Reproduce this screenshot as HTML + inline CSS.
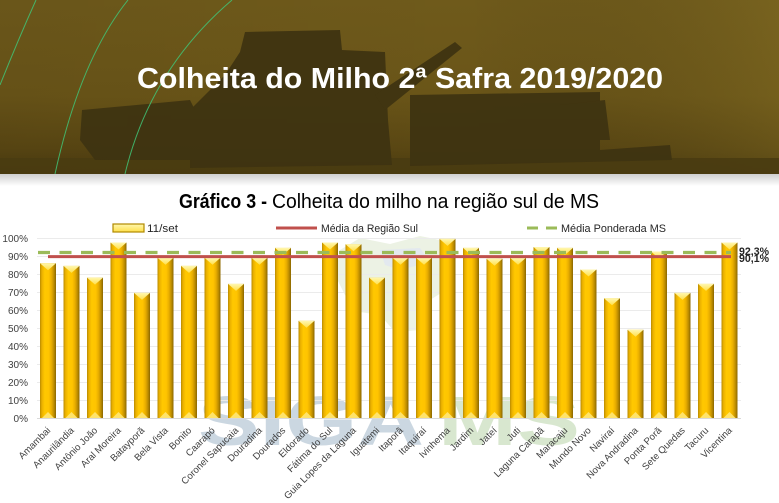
<!DOCTYPE html>
<html><head><meta charset="utf-8">
<style>
html,body{margin:0;padding:0;background:#fff;}
svg{display:block;}
text{font-family:"Liberation Sans",Arial,sans-serif;}
</style></head>
<body>
<svg width="779" height="503" viewBox="0 0 779 503" xmlns="http://www.w3.org/2000/svg">
<defs>
<linearGradient id="hdr" x1="0" y1="0" x2="0" y2="1">
<stop offset="0" stop-color="#6f5a1b"/>
<stop offset="0.55" stop-color="#6a5518"/>
<stop offset="0.85" stop-color="#5a4713"/>
<stop offset="1" stop-color="#4a3b10"/>
</linearGradient>
<linearGradient id="hdr2" x1="0" y1="0" x2="1" y2="0">
<stop offset="0" stop-color="#000" stop-opacity="0.05"/>
<stop offset="0.6" stop-color="#000" stop-opacity="0"/>
<stop offset="1" stop-color="#a08a30" stop-opacity="0.18"/>
</linearGradient>
<linearGradient id="shadow" x1="0" y1="0" x2="0" y2="1">
<stop offset="0" stop-color="#cfcfcf"/>
<stop offset="1" stop-color="#ffffff"/>
</linearGradient>
<linearGradient id="bg" x1="0" y1="0" x2="1" y2="0">
<stop offset="0" stop-color="#b88a00"/>
<stop offset="0.12" stop-color="#eab000"/>
<stop offset="0.3" stop-color="#ffc800"/>
<stop offset="0.55" stop-color="#ffc400"/>
<stop offset="0.72" stop-color="#e8ad00"/>
<stop offset="0.88" stop-color="#b98a00"/>
<stop offset="1" stop-color="#8a6600"/>
</linearGradient>
<linearGradient id="tg" x1="0" y1="0" x2="0" y2="1">
<stop offset="0" stop-color="#fff7b0"/>
<stop offset="1" stop-color="#ffe04a"/>
</linearGradient>
</defs>

<!-- header -->
<rect x="0" y="0" width="779" height="174" fill="url(#hdr)"/>
<rect x="0" y="0" width="779" height="174" fill="url(#hdr2)"/>
<g fill="#3e3311" opacity="0.92">
<rect x="0" y="158" width="779" height="16" fill="#4a3c11"/>
<polygon points="245,32 340,30 342,50 385,52 388,120 392,165 190,168 190,110 200,100 225,75 240,52"/>
<polygon points="82,110 190,100 195,110 195,160 95,160 80,140"/>
<polygon points="375,95 455,42 462,48 385,110"/>
<polygon points="410,95 600,92 600,150 670,145 672,160 410,166"/>
<polygon points="560,105 605,100 610,140 560,140"/>
</g>
<g fill="none" stroke="#41c476" stroke-width="1" opacity="0.85">
<path d="M0,85 Q18,40 36,0"/>
<path d="M55,174 Q80,60 128,0"/>
<path d="M125,174 Q150,70 232,0"/>
</g>
<text x="137" y="88" font-size="29" font-weight="bold" fill="#ffffff" textLength="526" lengthAdjust="spacingAndGlyphs">Colheita do Milho 2ª Safra 2019/2020</text>
<rect x="0" y="174" width="779" height="12" fill="url(#shadow)"/>

<!-- subtitle -->
<text x="179" y="208" font-size="20" font-weight="bold" fill="#000" textLength="88" lengthAdjust="spacingAndGlyphs">Gráfico 3 -</text>
<text x="272" y="208" font-size="20" fill="#000" textLength="327" lengthAdjust="spacingAndGlyphs">Colheita do milho na região sul de MS</text>

<!-- watermark -->
<g opacity="0.45">
<polygon points="340,250 360,238 390,244 420,236 440,240 452,262 446,290 430,300 420,330 395,332 380,315 360,312 345,295 335,275" fill="#d6e3c4"/>
<polygon points="380,250 420,248 430,262 400,270 385,265" fill="#c2d0dc"/>
</g>
<text x="198" y="445" font-size="70" font-weight="bold" fill="#cbd7e1" textLength="226" lengthAdjust="spacingAndGlyphs">SIGA</text>
<text x="438" y="445" font-size="70" font-weight="bold" fill="#d8e7cf" textLength="142" lengthAdjust="spacingAndGlyphs">MS</text>

<!-- legend -->
<rect x="113" y="224" width="31" height="8" fill="url(#tg)" stroke="#b08a00" stroke-width="1.2"/>
<text x="147" y="232" font-size="11" fill="#262626" textLength="31" lengthAdjust="spacingAndGlyphs">11/set</text>
<line x1="276" y1="228" x2="317" y2="228" stroke="#c0504d" stroke-width="3"/>
<text x="321" y="232" font-size="11" fill="#262626" textLength="97" lengthAdjust="spacingAndGlyphs">Média da Região Sul</text>
<line x1="527" y1="228" x2="558" y2="228" stroke="#9bbb59" stroke-width="3" stroke-dasharray="11,8"/>
<text x="561" y="232" font-size="11" fill="#262626" textLength="105" lengthAdjust="spacingAndGlyphs">Média Ponderada MS</text>

<!-- gridlines -->
<g stroke="#ebebeb" stroke-width="1">
<line x1="37" y1="238.5" x2="741" y2="238.5"/>
<line x1="37" y1="256.5" x2="741" y2="256.5"/>
<line x1="37" y1="274.5" x2="741" y2="274.5"/>
<line x1="37" y1="292.5" x2="741" y2="292.5"/>
<line x1="37" y1="310.5" x2="741" y2="310.5"/>
<line x1="37" y1="328.5" x2="741" y2="328.5"/>
<line x1="37" y1="346.5" x2="741" y2="346.5"/>
<line x1="37" y1="364.5" x2="741" y2="364.5"/>
<line x1="37" y1="382.5" x2="741" y2="382.5"/>
<line x1="37" y1="400.5" x2="741" y2="400.5"/>
</g>
<line x1="37" y1="418.5" x2="741" y2="418.5" stroke="#d9d9d9" stroke-width="1"/>

<!-- y labels -->
<g font-size="10" fill="#404040" text-anchor="end">
<text x="28" y="242">100%</text>
<text x="28" y="260">90%</text>
<text x="28" y="278">80%</text>
<text x="28" y="296">70%</text>
<text x="28" y="314">60%</text>
<text x="28" y="332">50%</text>
<text x="28" y="350">40%</text>
<text x="28" y="368">30%</text>
<text x="28" y="386">20%</text>
<text x="28" y="404">10%</text>
<text x="28" y="422">0%</text>
</g>

<!-- bars -->
<g>
<g transform="translate(48,0)"><rect x="-8" y="263.2" width="16" height="154.8" fill="url(#bg)"/><polygon points="-8,263.2 8,263.2 0,270.2" fill="url(#tg)"/><polygon points="-6,418 6,418 0,412" fill="#ffe36a"/></g>
<g transform="translate(71.5,0)"><rect x="-8" y="265.9" width="16" height="152.1" fill="url(#bg)"/><polygon points="-8,265.9 8,265.9 0,272.9" fill="url(#tg)"/><polygon points="-6,418 6,418 0,412" fill="#ffe36a"/></g>
<g transform="translate(95,0)"><rect x="-8" y="277.6" width="16" height="140.4" fill="url(#bg)"/><polygon points="-8,277.6 8,277.6 0,284.6" fill="url(#tg)"/><polygon points="-6,418 6,418 0,412" fill="#ffe36a"/></g>
<g transform="translate(118.5,0)"><rect x="-8" y="242.5" width="16" height="175.5" fill="url(#bg)"/><polygon points="-8,242.5 8,242.5 0,249.5" fill="url(#tg)"/><polygon points="-6,418 6,418 0,412" fill="#ffe36a"/></g>
<g transform="translate(142,0)"><rect x="-8" y="292.9" width="16" height="125.1" fill="url(#bg)"/><polygon points="-8,292.9 8,292.9 0,299.9" fill="url(#tg)"/><polygon points="-6,418 6,418 0,412" fill="#ffe36a"/></g>
<g transform="translate(165.5,0)"><rect x="-8" y="257.8" width="16" height="160.2" fill="url(#bg)"/><polygon points="-8,257.8 8,257.8 0,264.8" fill="url(#tg)"/><polygon points="-6,418 6,418 0,412" fill="#ffe36a"/></g>
<g transform="translate(189,0)"><rect x="-8" y="265.9" width="16" height="152.1" fill="url(#bg)"/><polygon points="-8,265.9 8,265.9 0,272.9" fill="url(#tg)"/><polygon points="-6,418 6,418 0,412" fill="#ffe36a"/></g>
<g transform="translate(212.5,0)"><rect x="-8" y="257.8" width="16" height="160.2" fill="url(#bg)"/><polygon points="-8,257.8 8,257.8 0,264.8" fill="url(#tg)"/><polygon points="-6,418 6,418 0,412" fill="#ffe36a"/></g>
<g transform="translate(236,0)"><rect x="-8" y="283.9" width="16" height="134.1" fill="url(#bg)"/><polygon points="-8,283.9 8,283.9 0,290.9" fill="url(#tg)"/><polygon points="-6,418 6,418 0,412" fill="#ffe36a"/></g>
<g transform="translate(259.5,0)"><rect x="-8" y="257.8" width="16" height="160.2" fill="url(#bg)"/><polygon points="-8,257.8 8,257.8 0,264.8" fill="url(#tg)"/><polygon points="-6,418 6,418 0,412" fill="#ffe36a"/></g>
<g transform="translate(283,0)"><rect x="-8" y="247.9" width="16" height="170.1" fill="url(#bg)"/><polygon points="-8,247.9 8,247.9 0,254.9" fill="url(#tg)"/><polygon points="-6,418 6,418 0,412" fill="#ffe36a"/></g>
<g transform="translate(306.5,0)"><rect x="-8" y="320.8" width="16" height="97.2" fill="url(#bg)"/><polygon points="-8,320.8 8,320.8 0,327.8" fill="url(#tg)"/><polygon points="-6,418 6,418 0,412" fill="#ffe36a"/></g>
<g transform="translate(330,0)"><rect x="-8" y="242.5" width="16" height="175.5" fill="url(#bg)"/><polygon points="-8,242.5 8,242.5 0,249.5" fill="url(#tg)"/><polygon points="-6,418 6,418 0,412" fill="#ffe36a"/></g>
<g transform="translate(353.5,0)"><rect x="-8" y="244.3" width="16" height="173.7" fill="url(#bg)"/><polygon points="-8,244.3 8,244.3 0,251.3" fill="url(#tg)"/><polygon points="-6,418 6,418 0,412" fill="#ffe36a"/></g>
<g transform="translate(377,0)"><rect x="-8" y="277.6" width="16" height="140.4" fill="url(#bg)"/><polygon points="-8,277.6 8,277.6 0,284.6" fill="url(#tg)"/><polygon points="-6,418 6,418 0,412" fill="#ffe36a"/></g>
<g transform="translate(400.5,0)"><rect x="-8" y="257.8" width="16" height="160.2" fill="url(#bg)"/><polygon points="-8,257.8 8,257.8 0,264.8" fill="url(#tg)"/><polygon points="-6,418 6,418 0,412" fill="#ffe36a"/></g>
<g transform="translate(424,0)"><rect x="-8" y="257.8" width="16" height="160.2" fill="url(#bg)"/><polygon points="-8,257.8 8,257.8 0,264.8" fill="url(#tg)"/><polygon points="-6,418 6,418 0,412" fill="#ffe36a"/></g>
<g transform="translate(447.5,0)"><rect x="-8" y="238.9" width="16" height="179.1" fill="url(#bg)"/><polygon points="-8,238.9 8,238.9 0,245.9" fill="url(#tg)"/><polygon points="-6,418 6,418 0,412" fill="#ffe36a"/></g>
<g transform="translate(471,0)"><rect x="-8" y="247.9" width="16" height="170.1" fill="url(#bg)"/><polygon points="-8,247.9 8,247.9 0,254.9" fill="url(#tg)"/><polygon points="-6,418 6,418 0,412" fill="#ffe36a"/></g>
<g transform="translate(494.5,0)"><rect x="-8" y="258.7" width="16" height="159.3" fill="url(#bg)"/><polygon points="-8,258.7 8,258.7 0,265.7" fill="url(#tg)"/><polygon points="-6,418 6,418 0,412" fill="#ffe36a"/></g>
<g transform="translate(518,0)"><rect x="-8" y="257.8" width="16" height="160.2" fill="url(#bg)"/><polygon points="-8,257.8 8,257.8 0,264.8" fill="url(#tg)"/><polygon points="-6,418 6,418 0,412" fill="#ffe36a"/></g>
<g transform="translate(541.5,0)"><rect x="-8" y="247" width="16" height="171" fill="url(#bg)"/><polygon points="-8,247 8,247 0,254" fill="url(#tg)"/><polygon points="-6,418 6,418 0,412" fill="#ffe36a"/></g>
<g transform="translate(565,0)"><rect x="-8" y="247.9" width="16" height="170.1" fill="url(#bg)"/><polygon points="-8,247.9 8,247.9 0,254.9" fill="url(#tg)"/><polygon points="-6,418 6,418 0,412" fill="#ffe36a"/></g>
<g transform="translate(588.5,0)"><rect x="-8" y="269.5" width="16" height="148.5" fill="url(#bg)"/><polygon points="-8,269.5 8,269.5 0,276.5" fill="url(#tg)"/><polygon points="-6,418 6,418 0,412" fill="#ffe36a"/></g>
<g transform="translate(612,0)"><rect x="-8" y="298.3" width="16" height="119.7" fill="url(#bg)"/><polygon points="-8,298.3 8,298.3 0,305.3" fill="url(#tg)"/><polygon points="-6,418 6,418 0,412" fill="#ffe36a"/></g>
<g transform="translate(635.5,0)"><rect x="-8" y="329.8" width="16" height="88.2" fill="url(#bg)"/><polygon points="-8,329.8 8,329.8 0,336.8" fill="url(#tg)"/><polygon points="-6,418 6,418 0,412" fill="#ffe36a"/></g>
<g transform="translate(659,0)"><rect x="-8" y="251.5" width="16" height="166.5" fill="url(#bg)"/><polygon points="-8,251.5 8,251.5 0,258.5" fill="url(#tg)"/><polygon points="-6,418 6,418 0,412" fill="#ffe36a"/></g>
<g transform="translate(682.5,0)"><rect x="-8" y="292.9" width="16" height="125.1" fill="url(#bg)"/><polygon points="-8,292.9 8,292.9 0,299.9" fill="url(#tg)"/><polygon points="-6,418 6,418 0,412" fill="#ffe36a"/></g>
<g transform="translate(706,0)"><rect x="-8" y="283.9" width="16" height="134.1" fill="url(#bg)"/><polygon points="-8,283.9 8,283.9 0,290.9" fill="url(#tg)"/><polygon points="-6,418 6,418 0,412" fill="#ffe36a"/></g>
<g transform="translate(729.5,0)"><rect x="-8" y="242.5" width="16" height="175.5" fill="url(#bg)"/><polygon points="-8,242.5 8,242.5 0,249.5" fill="url(#tg)"/><polygon points="-6,418 6,418 0,412" fill="#ffe36a"/></g>
</g>

<!-- average lines -->
<line x1="38" y1="252.5" x2="731" y2="252.5" stroke="#9bbb59" stroke-width="3.2" stroke-dasharray="12,9.5"/>
<line x1="48" y1="256.6" x2="731" y2="256.6" stroke="#c0504d" stroke-width="3"/>
<text x="739" y="255" font-size="11" font-weight="bold" fill="#262626" textLength="30" lengthAdjust="spacingAndGlyphs">92,3%</text>
<text x="739" y="262" font-size="11" font-weight="bold" fill="#262626" textLength="30" lengthAdjust="spacingAndGlyphs">90,1%</text>

<!-- x labels -->
<g font-size="9.6" fill="#404040" text-anchor="end">
<text transform="translate(51,431) rotate(-45)">Amambai</text>
<text transform="translate(74.5,431) rotate(-45)">Anaurilândia</text>
<text transform="translate(98,431) rotate(-45)">Antônio João</text>
<text transform="translate(121.5,431) rotate(-45)">Aral Moreira</text>
<text transform="translate(145,431) rotate(-45)">Batayporã</text>
<text transform="translate(168.5,431) rotate(-45)">Bela Vista</text>
<text transform="translate(192,431) rotate(-45)">Bonito</text>
<text transform="translate(215.5,431) rotate(-45)">Caarapó</text>
<text transform="translate(239,431) rotate(-45)">Coronel Sapucaia</text>
<text transform="translate(262.5,431) rotate(-45)">Douradina</text>
<text transform="translate(286,431) rotate(-45)">Dourados</text>
<text transform="translate(309.5,431) rotate(-45)">Eldorado</text>
<text transform="translate(333,431) rotate(-45)">Fátima do Sul</text>
<text transform="translate(356.5,431) rotate(-45)">Guia Lopes da Laguna</text>
<text transform="translate(380,431) rotate(-45)">Iguatemi</text>
<text transform="translate(403.5,431) rotate(-45)">Itaporã</text>
<text transform="translate(427,431) rotate(-45)">Itaquiraí</text>
<text transform="translate(450.5,431) rotate(-45)">Ivinhema</text>
<text transform="translate(474,431) rotate(-45)">Jardim</text>
<text transform="translate(497.5,431) rotate(-45)">Jateí</text>
<text transform="translate(521,431) rotate(-45)">Juti</text>
<text transform="translate(544.5,431) rotate(-45)">Laguna Carapã</text>
<text transform="translate(568,431) rotate(-45)">Maracaju</text>
<text transform="translate(591.5,431) rotate(-45)">Mundo Novo</text>
<text transform="translate(615,431) rotate(-45)">Naviraí</text>
<text transform="translate(638.5,431) rotate(-45)">Nova Andradina</text>
<text transform="translate(662,431) rotate(-45)">Ponta Porã</text>
<text transform="translate(685.5,431) rotate(-45)">Sete Quedas</text>
<text transform="translate(709,431) rotate(-45)">Tacuru</text>
<text transform="translate(732.5,431) rotate(-45)">Vicentina</text>
</g>
</svg>
</body></html>
